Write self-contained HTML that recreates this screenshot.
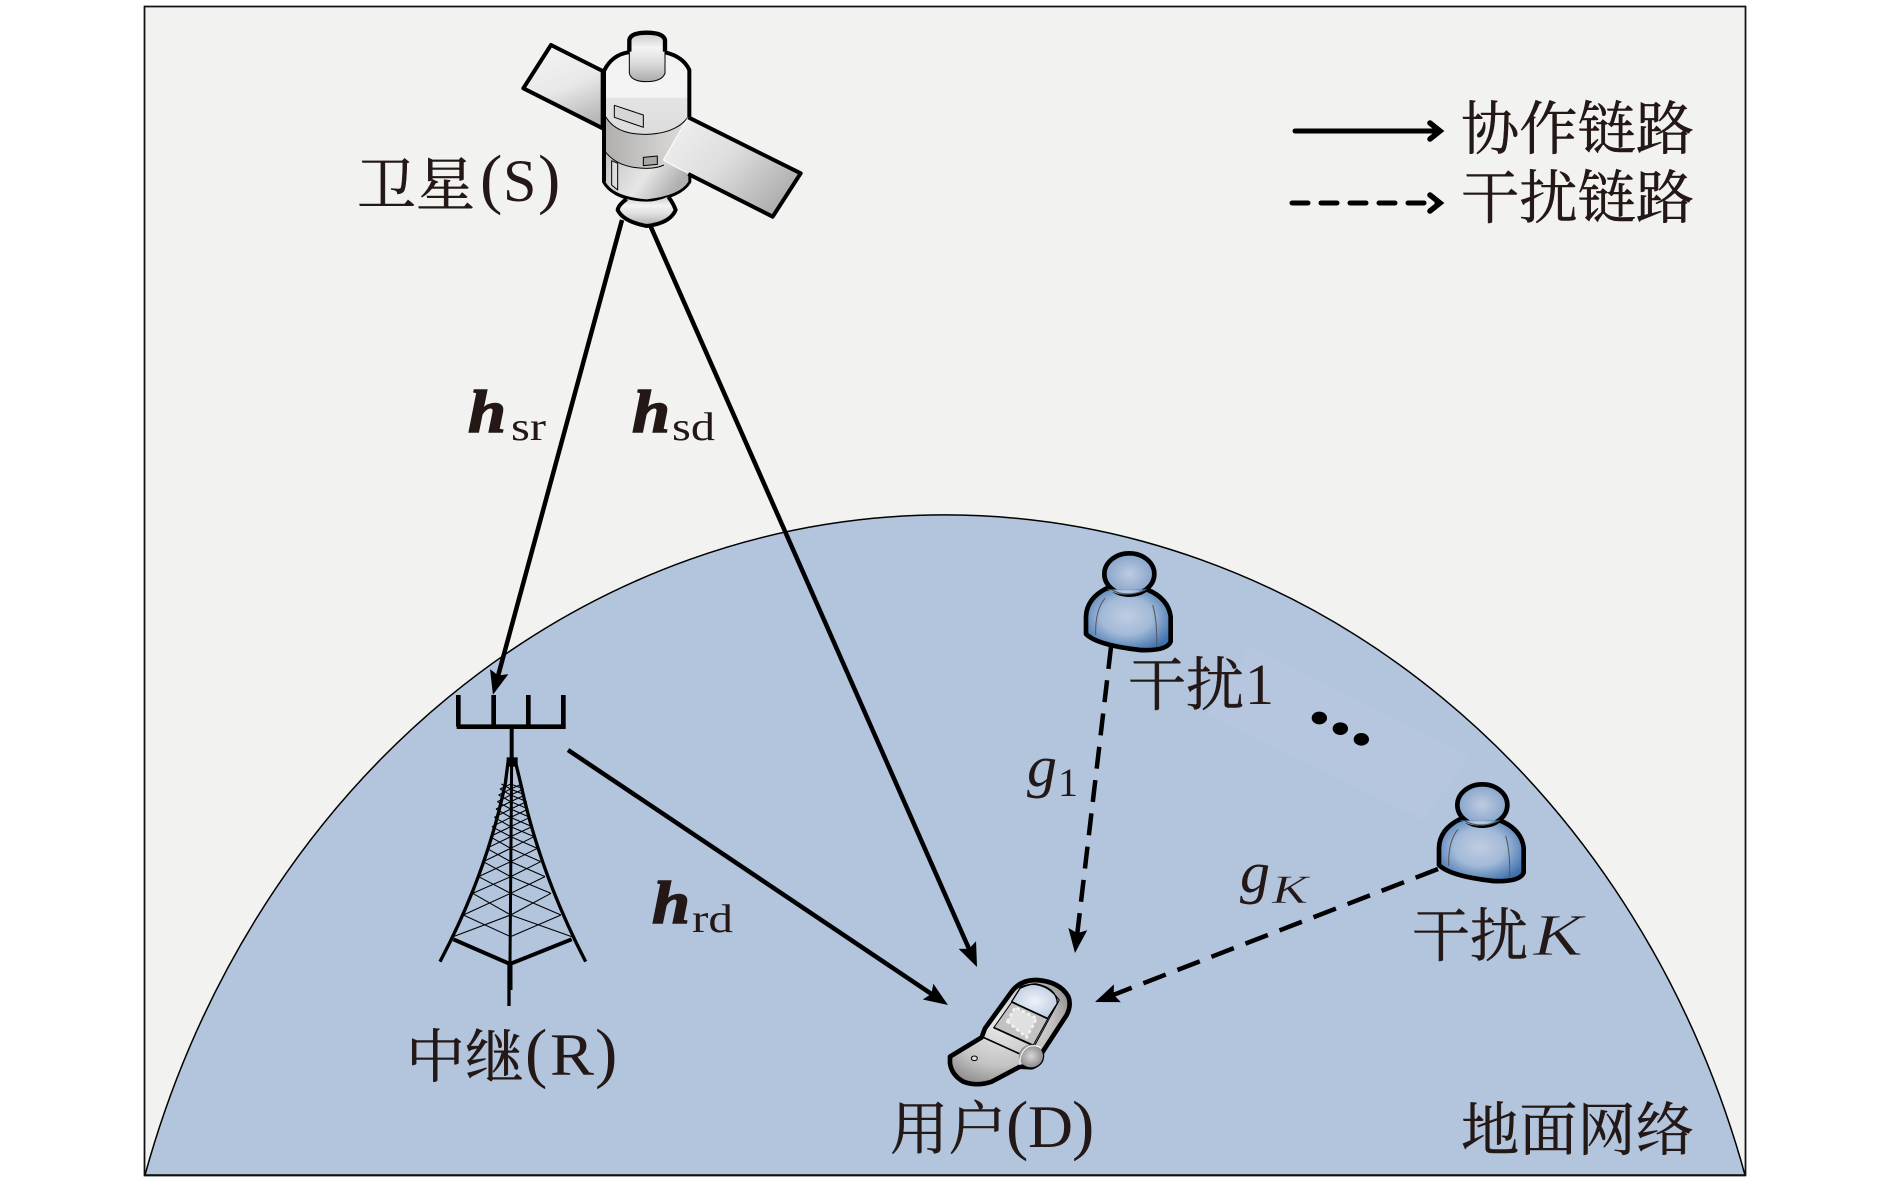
<!DOCTYPE html>
<html><head><meta charset="utf-8"><style>
html,body{margin:0;padding:0;background:#fff}
svg{display:block}
.z{font-family:"Noto Serif CJK SC","Noto Sans CJK SC",serif;font-size:58px;fill:#231815;stroke:#231815;stroke-width:.5px}
.l{font-family:"Liberation Serif",serif;fill:#231815}
.p{font-size:67px}
.s{font-size:40px}
.h{font-style:italic;font-weight:bold;font-size:60px;stroke:#231815;stroke-width:1.5px}
.i{font-style:italic}
</style></head><body>
<svg width="1890" height="1182" viewBox="0 0 1890 1182" xmlns="http://www.w3.org/2000/svg">
<defs>
<marker id="ah" markerUnits="userSpaceOnUse" markerWidth="30" markerHeight="26" refX="18" refY="13" orient="auto"><path d="M0,3.5L24,13L0,22.5L4,13Z" fill="#000"/></marker>
<linearGradient id="pl" x1="0.2" y1="0" x2="0.6" y2="1"><stop offset="0" stop-color="#f4f4f4"/><stop offset=".55" stop-color="#e8e8e8"/><stop offset="1" stop-color="#b8b8b8"/></linearGradient>
<linearGradient id="pr" x1="0" y1="0" x2="1" y2="0.7"><stop offset="0" stop-color="#f2f2f2"/><stop offset=".5" stop-color="#dedede"/><stop offset="1" stop-color="#acacac"/></linearGradient>
<linearGradient id="bt" x1="0" y1="0" x2="0" y2="1"><stop offset="0" stop-color="#f2f2f2"/><stop offset=".3" stop-color="#f4f4f4"/><stop offset=".31" stop-color="#e4e4e4"/><stop offset="1" stop-color="#cdcdcd"/></linearGradient>
<linearGradient id="bm" x1="0" y1="0" x2="1" y2="0"><stop offset="0" stop-color="#b0aeac"/><stop offset=".6" stop-color="#cdcbc9"/><stop offset="1" stop-color="#e0dedc"/></linearGradient>
<linearGradient id="bb" x1="0" y1="0" x2="1" y2="0.4"><stop offset="0" stop-color="#c0c0c0"/><stop offset=".6" stop-color="#e6e6e6"/><stop offset="1" stop-color="#b0b0b0"/></linearGradient>
<linearGradient id="cy" x1="0" y1="0" x2="0" y2="1"><stop offset="0" stop-color="#c8c8c8"/><stop offset=".3" stop-color="#f4f4f4"/><stop offset=".6" stop-color="#dedede"/><stop offset="1" stop-color="#aaa"/></linearGradient>
<radialGradient id="ph" cx=".42" cy=".4" r=".7"><stop offset="0" stop-color="#ececec"/><stop offset=".6" stop-color="#c4c4c4"/><stop offset="1" stop-color="#7e7e7e"/></radialGradient>
<radialGradient id="sc" cx=".5" cy=".5" r=".65"><stop offset="0" stop-color="#f0f3f9"/><stop offset="1" stop-color="#b3c4dd"/></radialGradient>
<radialGradient id="ball"><stop offset="0" stop-color="#d8d8d8"/><stop offset="1" stop-color="#8e8e8e"/></radialGradient>
<radialGradient id="pb" cx=".48" cy=".45" r=".6"><stop offset="0" stop-color="#bfcde2"/><stop offset=".5" stop-color="#a3bad8"/><stop offset="1" stop-color="#3f72ae"/></radialGradient>
<radialGradient id="ph2" cx=".5" cy=".5" r=".6"><stop offset="0" stop-color="#bfcbe0"/><stop offset="1" stop-color="#7b9cc6"/></radialGradient>
<g id="person">
<path d="M140,175Q80,205 78,260L78,312Q110,345 240,360Q320,364 332,335L332,260Q325,205 260,178Z" fill="url(#pb)" stroke="#000" stroke-width="14" stroke-linejoin="round"/>
<ellipse cx="208" cy="132" rx="75" ry="62" fill="url(#ph2)" stroke="#000" stroke-width="14"/>
<path d="M140,178Q200,210 262,178" fill="url(#pb)" stroke="none"/>
<path d="M155,180Q205,205 258,178M135,205Q105,240 107,315M278,225Q292,270 290,350" fill="none" stroke="#555" stroke-width="3"/>
</g>
</defs>

<rect x="144.5" y="6.5" width="1601" height="1169" fill="#f2f2f0" stroke="#111" stroke-width="1.5"/>
<path d="M145,1175A837,935 0 0 1 1745,1175Z" fill="#b3c4dd" stroke="#000" stroke-width="1.5"/>
<rect x="144.5" y="6.5" width="1601" height="1169" fill="none" stroke="#111" stroke-width="1.5"/>
<g transform="translate(1060,530) scale(.3333)"><path d="M570,350L1230,680L1090,870L440,550Z" fill="#b5c6de"/></g>

<!-- satellite -->
<g transform="translate(480,0) scale(.33333)" stroke-linejoin="round">
<path d="M213,135L368,213L368,385L130,265Z" fill="url(#pl)" stroke="#000" stroke-width="12"/>
<path d="M372,213Q395,165 445,157L555,157Q610,170 628,210L628,545Q600,590 500,603Q400,595 372,545Z" fill="url(#bt)" stroke="#000" stroke-width="12"/>
<path d="M372,340Q400,405 500,403Q590,400 625,350L550,480L545,497Q520,505 500,505Q410,505 372,450Z" fill="url(#bm)"/>
<path d="M372,450Q410,505 500,505Q530,505 552,490L625,520L625,545Q600,587 500,598Q400,590 376,545Z" fill="url(#bb)"/>
<path d="M372,340Q400,405 500,403Q590,400 625,350M372,450Q410,505 500,505Q530,505 552,495" fill="none" stroke="#000" stroke-width="3"/>
<path d="M403,316L490,345L490,382L403,352Z" fill="#d6d6d6" stroke="#000" stroke-width="3"/>
<path d="M490,472L532,468L532,493L490,497Z" fill="#a8a8a4" stroke="#000" stroke-width="3"/>
<path d="M395,482L413,490L413,570L395,555Z" fill="#ddd" stroke="#000" stroke-width="3"/>
<path d="M372,213L372,545" stroke="#000" stroke-width="12" fill="none"/>
<path d="M625,352L962,520L878,650L550,480Z" fill="url(#pr)"/>
<path d="M550,480L625,352" stroke="#fff" stroke-width="3" fill="none"/>
<path d="M550,480L625,520" stroke="#fff" stroke-width="3" fill="none"/>
<path d="M625,352L962,520L878,650L625,522" fill="none" stroke="#000" stroke-width="12"/>
<path d="M448,150L448,120Q452,98 500,98Q550,98 555,120L555,150L555,220Q545,245 500,245Q455,245 448,220Z" fill="url(#cy)"/>
<path d="M448,155L448,120Q452,98 500,98Q550,98 555,120L555,155" fill="none" stroke="#000" stroke-width="13"/>
<path d="M448,155L448,220Q455,245 500,245Q545,245 555,220L555,155" fill="none" stroke="#000" stroke-width="3"/>
<path d="M440,597Q415,615 413,630Q430,665 500,678Q570,670 587,630Q580,610 565,590Q530,605 500,605Q470,605 440,597Z" fill="url(#cy)"/>
<path d="M440,597Q415,615 413,630Q430,665 500,678Q570,670 587,630Q580,610 565,590" fill="none" stroke="#000" stroke-width="12"/>
</g>

<!-- tower -->
<g transform="translate(400,660) scale(.33333)" fill="none" stroke="#000">
<path d="M170,200L497,200" stroke-width="14"/>
<path d="M175,105L175,200M281,105L281,200M385,105L385,200M490,105L490,200" stroke-width="14"/>
<path d="M335,205L335,295" stroke-width="12"/>
<rect x="320" y="292" width="33" height="28" fill="#000" stroke="none"/>
<path d="M325,300L316,370Q260,640 120,905M345,300L362,370Q420,640 557,905" stroke-width="10"/>
<path d="M335,300L330,910" stroke-width="9"/>
<path d="M327,910L327,1038" stroke-width="10"/>
<path d="M330,912L330,990" stroke-width="15"/>
<path d="M160,838L330,912L515,838" stroke-width="12"/>
<path stroke-width="3.2" d="M160,830L332,765M190,765L332,830M190,765L332,700M218,700L332,765M218,700L332,650M236,650L332,700M236,650L332,605M250,605L332,650M250,605L332,565M260,565L332,605M260,565L332,530M270,530L332,565M270,530L332,500M276,500L332,530M276,500L332,472M283,472L332,500M283,472L332,447M288,447L332,472M288,447L332,425M292,425L332,447M292,425L332,405M296,405L332,425M296,405L332,387M300,387L332,405M300,387L332,372M304,372L332,387"/>
<path stroke-width="3.2" d="M515,830L332,765M483,765L332,830M483,765L332,700M453,700L332,765M453,700L332,650M435,650L332,700M435,650L332,605M422,605L332,650M422,605L332,565M412,565L332,605M412,565L332,530M402,530L332,565M402,530L332,500M396,500L332,530M396,500L332,472M390,472L332,500M390,472L332,447M385,447L332,472M385,447L332,425M380,425L332,447M380,425L332,405M375,405L332,425M375,405L332,387M371,387L332,405M371,387L332,372M366,372L332,387"/>
</g>

<!-- phone -->
<g transform="translate(920,950) scale(.33333)" stroke-linejoin="round">
<path d="M90,320L185,262L195,235L275,125Q300,90 350,90Q420,95 445,140Q455,165 440,195L365,310Q370,340 335,352L300,350L215,395Q170,410 130,395Q95,375 90,340Z" fill="url(#ph)" stroke="#000" stroke-width="14"/>
<path d="M275,155L300,115Q330,100 350,102Q410,115 412,160L383,205Z" fill="url(#sc)" stroke="#000" stroke-width="4"/>
<path d="M290,115Q365,80 418,150L345,285" fill="none" stroke="#000" stroke-width="3"/>
<path d="M222,232L275,157L383,207L340,285Z" fill="#c2c2c2" stroke="#000" stroke-width="3"/>
<path d="M262,215L285,172L350,205L320,262Z" fill="#e8e8e8" opacity=".8" stroke="#fff" stroke-width="8" stroke-dasharray="10 8"/>
<path d="M190,262L300,312M220,232L342,288" fill="none" stroke="#000" stroke-width="5"/>
<ellipse cx="333" cy="318" rx="36" ry="34" fill="url(#ball)"/>
<path d="M300,345Q298,305 325,290Q345,283 362,293" fill="none" stroke="#fff" stroke-width="3"/>
<ellipse cx="163" cy="325" rx="9" ry="7" fill="#ddd" stroke="#000" stroke-width="3"/>
</g>

<!-- persons -->
<g transform="translate(1060,530) scale(.33333)"><use href="#person"/>
<ellipse cx="778" cy="564" rx="23" ry="19" fill="#000"/><ellipse cx="841" cy="596" rx="23" ry="19" fill="#000"/><ellipse cx="904" cy="628" rx="23" ry="19" fill="#000"/>
</g>
<g transform="translate(1413,761) scale(.33333)"><use href="#person"/></g>

<!-- connectors -->
<g fill="none" stroke="#000" stroke-width="4.5">
<line x1="622" y1="220" x2="494.5" y2="689" marker-end="url(#ah)"/>
<line x1="650" y1="225" x2="974.6" y2="961.5" marker-end="url(#ah)"/>
<line x1="568" y1="750" x2="943" y2="1001.7" marker-end="url(#ah)"/>
<line x1="1111" y1="647" x2="1075.7" y2="947" stroke-dasharray="22 11.5" marker-end="url(#ah)"/>
<line x1="1438" y1="869" x2="1100.6" y2="999.8" stroke-dasharray="24 12.5" marker-end="url(#ah)"/>
</g>

<!-- legend -->
<g fill="none" stroke="#000" stroke-width="5" stroke-linecap="round">
<line x1="1295" y1="131" x2="1438" y2="131"/>
<path d="M1430,123L1440,131L1430,139" stroke-width="5.5" stroke-linejoin="miter"/>
<line x1="1292" y1="203" x2="1438" y2="203" stroke-dasharray="16 13"/>
<path d="M1430,195L1440,203L1430,211" stroke-width="5.5" stroke-linejoin="miter"/>
</g>

<!-- labels -->
<text class="z" x="1461" y="149" textLength="233" lengthAdjust="spacingAndGlyphs">协作链路</text>
<text class="z" x="1461" y="218" textLength="233" lengthAdjust="spacingAndGlyphs">干扰链路</text>
<text class="z" x="357" y="205" textLength="118" lengthAdjust="spacingAndGlyphs">卫星</text>
<text class="l p" x="480" y="201">(</text><text class="l" font-size="60" x="503" y="201">S</text><text class="l p" x="538" y="201">)</text>
<text class="z" x="406" y="1077" textLength="118" lengthAdjust="spacingAndGlyphs">中继</text>
<text class="l p" x="525" y="1075">(</text><text class="l" font-size="60" x="550" y="1075" textLength="44" lengthAdjust="spacingAndGlyphs">R</text><text class="l p" x="595" y="1075">)</text>
<text class="z" x="890" y="1149" textLength="117" lengthAdjust="spacingAndGlyphs">用户</text>
<text class="l p" x="1006" y="1147">(</text><text class="l" font-size="60" x="1028" y="1147" textLength="45" lengthAdjust="spacingAndGlyphs">D</text><text class="l p" x="1072" y="1147">)</text>
<text class="z" x="1128" y="705" textLength="116" lengthAdjust="spacingAndGlyphs">干扰</text>
<text class="l" font-size="58" x="1245" y="704">1</text>
<text class="z" x="1412" y="956" textLength="116" lengthAdjust="spacingAndGlyphs">干扰</text>
<text class="l i" font-size="59" x="1533" y="955" textLength="50" lengthAdjust="spacingAndGlyphs" stroke="#b3c4dd" stroke-width=".8">K</text>
<text class="z" x="1461" y="1150" textLength="233" lengthAdjust="spacingAndGlyphs">地面网络</text>

<text class="l h" x="468" y="432" textLength="38" lengthAdjust="spacingAndGlyphs">h</text>
<text class="l s" x="511" y="440" textLength="35" lengthAdjust="spacingAndGlyphs">sr</text>
<text class="l h" x="632" y="432" textLength="38" lengthAdjust="spacingAndGlyphs">h</text>
<text class="l s" x="672" y="440" textLength="43" lengthAdjust="spacingAndGlyphs">sd</text>
<text class="l h" x="652" y="923" textLength="38" lengthAdjust="spacingAndGlyphs">h</text>
<text class="l s" x="692" y="932" textLength="41" lengthAdjust="spacingAndGlyphs">rd</text>
<text class="l i" font-size="58" x="1027" y="786" textLength="30" lengthAdjust="spacingAndGlyphs">g</text>
<text class="l s" x="1058" y="796">1</text>
<text class="l i" font-size="58" x="1240" y="892" textLength="30" lengthAdjust="spacingAndGlyphs">g</text>
<text class="l i s" x="1272" y="903" textLength="36" lengthAdjust="spacingAndGlyphs" stroke="#b3c4dd" stroke-width=".4">K</text>
</svg>
</body></html>
